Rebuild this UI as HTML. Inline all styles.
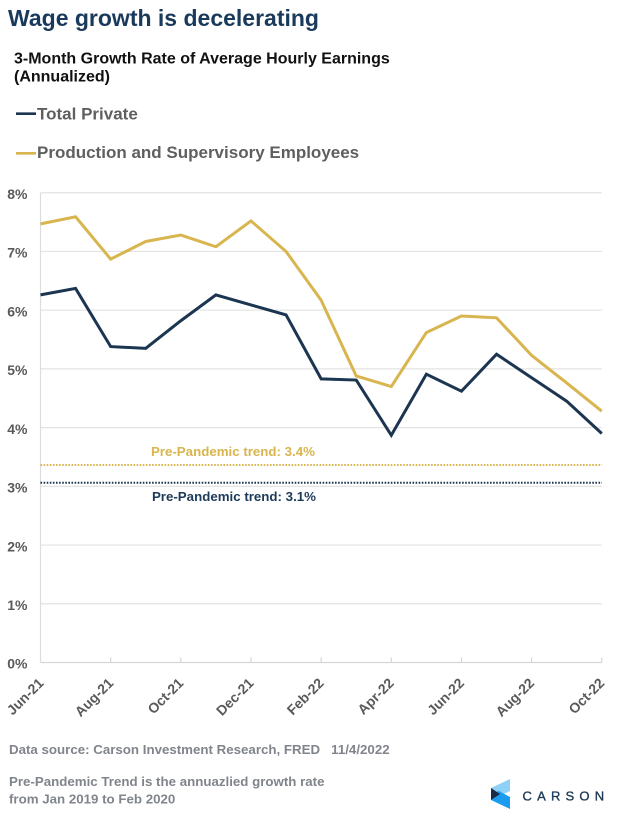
<!DOCTYPE html>
<html>
<head>
<meta charset="utf-8">
<style>
  html, body { margin:0; padding:0; background:#ffffff; }
  body { width:622px; height:824px; overflow:hidden; }
  svg { display:block; }
  text { font-family: "Liberation Sans", Arial, sans-serif; }
</style>
</head>
<body>
<svg width="622" height="824" viewBox="0 0 622 824" xmlns="http://www.w3.org/2000/svg">
  <!-- Title -->
  <text x="8" y="26" font-size="23" font-weight="bold" fill="#1a3a5c">Wage growth is decelerating</text>
  <text x="14" y="63.3" font-size="16" font-weight="bold" fill="#111111">3-Month Growth Rate of Average Hourly Earnings</text>
  <text x="14" y="81.7" font-size="16" font-weight="bold" fill="#111111">(Annualized)</text>

  <!-- Legend -->
  <line x1="16" y1="113.7" x2="36" y2="113.7" stroke="#1c3550" stroke-width="2.6"/>
  <text x="37" y="119.5" font-size="17" font-weight="bold" fill="#5f5f5f">Total Private</text>
  <line x1="16" y1="153.3" x2="36" y2="153.3" stroke="#d8b54e" stroke-width="2.6"/>
  <text x="37" y="158" font-size="17" font-weight="bold" fill="#5f5f5f">Production and Supervisory Employees</text>

  <!-- Gridlines -->
  <g stroke="#e3e3e3" stroke-width="1.2">
    <line x1="40.5" y1="192.74" x2="601.8" y2="192.74"/>
    <line x1="40.5" y1="251.46" x2="601.8" y2="251.46"/>
    <line x1="40.5" y1="310.18" x2="601.8" y2="310.18"/>
    <line x1="40.5" y1="368.9" x2="601.8" y2="368.9"/>
    <line x1="40.5" y1="427.62" x2="601.8" y2="427.62"/>
    <line x1="40.5" y1="486.34" x2="601.8" y2="486.34"/>
    <line x1="40.5" y1="545.06" x2="601.8" y2="545.06"/>
    <line x1="40.5" y1="603.78" x2="601.8" y2="603.78"/>
  </g>
  <!-- Axes -->
  <line x1="40.5" y1="192.7" x2="40.5" y2="662.5" stroke="#dcdcdc" stroke-width="1.2"/>
  <line x1="40.5" y1="662.5" x2="601.8" y2="662.5" stroke="#d6d6d6" stroke-width="1.3"/>
  <g stroke="#d6d6d6" stroke-width="1.2">
    <line x1="110.66" y1="657.5" x2="110.66" y2="662.5"/>
    <line x1="180.82" y1="657.5" x2="180.82" y2="662.5"/>
    <line x1="250.98" y1="657.5" x2="250.98" y2="662.5"/>
    <line x1="321.14" y1="657.5" x2="321.14" y2="662.5"/>
    <line x1="391.3" y1="657.5" x2="391.3" y2="662.5"/>
    <line x1="461.46" y1="657.5" x2="461.46" y2="662.5"/>
    <line x1="531.62" y1="657.5" x2="531.62" y2="662.5"/>
    <line x1="601.78" y1="657.5" x2="601.78" y2="662.5"/>
  </g>

  <!-- Y labels -->
  <g font-size="14" font-weight="bold" fill="#5a5a5a" text-anchor="end">
    <text x="27.5" y="199">8%</text>
    <text x="27.5" y="257.7">7%</text>
    <text x="27.5" y="316.4">6%</text>
    <text x="27.5" y="375.1">5%</text>
    <text x="27.5" y="433.8">4%</text>
    <text x="27.5" y="492.5">3%</text>
    <text x="27.5" y="551.3">2%</text>
    <text x="27.5" y="610">1%</text>
    <text x="27.5" y="668.7">0%</text>
  </g>

  <!-- X labels -->
  <g font-size="14" font-weight="bold" fill="#5a5a5a" text-anchor="end">
    <text transform="translate(44.5,684) rotate(-45)">Jun-21</text>
    <text transform="translate(114.2,684) rotate(-45)">Aug-21</text>
    <text transform="translate(184.3,684) rotate(-45)">Oct-21</text>
    <text transform="translate(254.5,684) rotate(-45)">Dec-21</text>
    <text transform="translate(324.6,684) rotate(-45)">Feb-22</text>
    <text transform="translate(394.8,684) rotate(-45)">Apr-22</text>
    <text transform="translate(465,684) rotate(-45)">Jun-22</text>
    <text transform="translate(535.1,684) rotate(-45)">Aug-22</text>
    <text transform="translate(605.3,684) rotate(-45)">Oct-22</text>
  </g>

  <!-- Pre-pandemic trend lines -->
  <line x1="40.5" y1="465" x2="602" y2="465" stroke="#d8b54e" stroke-width="2" stroke-dasharray="1.6 1.5"/>
  <line x1="40.5" y1="482.7" x2="602" y2="482.7" stroke="#1c3550" stroke-width="2" stroke-dasharray="1.6 1.5"/>
  <text x="315" y="456" font-size="13.3" font-weight="bold" fill="#d8b54e" text-anchor="end">Pre-Pandemic trend: 3.4%</text>
  <text x="316" y="501" font-size="13.3" font-weight="bold" fill="#1c3a5a" text-anchor="end">Pre-Pandemic trend: 3.1%</text>

  <!-- Series -->
  <polyline fill="none" stroke="#d8b54e" stroke-width="3" stroke-linejoin="miter"
    points="40.5,223.86 75.58,216.82 110.66,259.09 145.74,241.48 180.82,235.02 215.9,246.76 250.98,220.93 286.06,251.46 321.14,300.2 356.22,375.95 391.3,386.52 426.38,332.49 461.46,316.05 496.54,317.81 531.62,355.39 566.7,382.99 601.78,411.18"/>
  <polyline fill="none" stroke="#1c3550" stroke-width="3" stroke-linejoin="miter"
    points="40.5,294.91 75.58,288.45 110.66,346.59 145.74,348.35 180.82,320.75 215.9,294.91 250.98,304.9 286.06,314.88 321.14,378.88 356.22,380.06 391.3,435.25 426.38,374.18 461.46,391.21 496.54,354.22 531.62,377.71 566.7,401.2 601.78,433.49"/>

  <!-- Footer -->
  <g font-size="13.3" font-weight="bold" fill="#80858c">
    <text x="9" y="754" xml:space="preserve">Data source: Carson Investment Research, FRED   11/4/2022</text>
    <text x="9" y="786">Pre-Pandemic Trend is the annuazlied growth rate</text>
    <text x="9" y="803.5">from Jan 2019 to Feb 2020</text>
  </g>

  <!-- Carson logo -->
  <polygon points="491,788 510,779 510,791 499,796" fill="#8fd0f7"/>
  <polygon points="491,794 499,791 510,797 510,809 491,800" fill="#1a9cf0"/>
  <polygon points="491,788 500,794 491,800" fill="#1a2b45"/>
  <text x="522.5" y="800.5" font-size="13" fill="#1d3a57" stroke="#1d3a57" stroke-width="0.35" letter-spacing="5.2">CARSON</text>
</svg>
</body>
</html>
